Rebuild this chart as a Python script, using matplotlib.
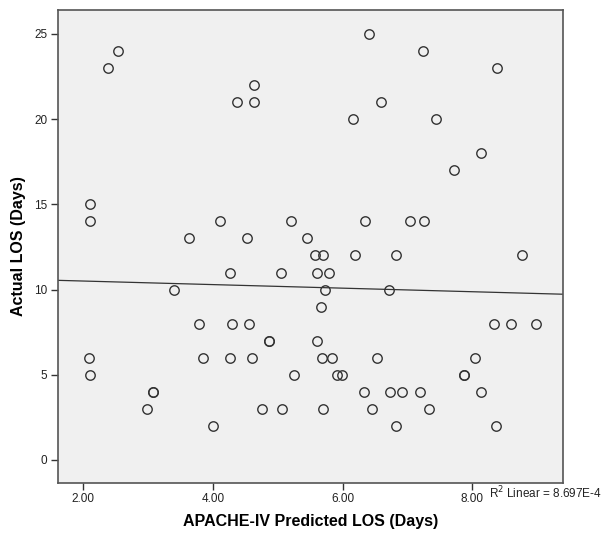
import numpy as np
import matplotlib
matplotlib.use('Agg')
import matplotlib.pyplot as plt

plt.rcParams['font.family'] = ['Liberation Sans', 'DejaVu Sans']

# Predicted LOS (x) and actual LOS (y)
pred_los = [2.11, 2.10, 2.38, 2.54, 4.37, 4.63, 4.63, 3.63, 4.11, 4.53, 5.21,
            6.40, 7.24, 8.38, 6.59, 6.16, 7.44, 8.13, 7.72, 6.35, 7.04, 7.25,
            5.45, 5.57, 5.70, 6.19, 6.82, 8.77, 5.61, 5.79,
            4.27, 5.05, 3.40, 3.78, 4.30, 4.56, 4.87, 4.87, 2.09, 3.85, 4.26,
            4.61, 2.10, 5.25, 3.07, 3.07, 2.99, 4.76, 5.06, 4.00,
            5.73, 6.71, 5.66, 8.33, 8.59, 8.99, 5.60, 5.68, 5.84, 6.53, 8.04,
            5.92, 5.99, 7.87, 7.87, 6.33, 6.73, 6.92, 7.20, 8.13,
            5.70, 6.45, 7.34, 6.82, 8.36]
actual_los = [15, 14, 23, 24, 21, 22, 21, 13, 14, 13, 14,
              25, 24, 23, 21, 20, 20, 18, 17, 14, 14, 14,
              13, 12, 12, 12, 12, 12, 11, 11,
              11, 11, 10, 8, 8, 8, 7, 7, 6, 6, 6,
              6, 5, 5, 4, 4, 3, 3, 3, 2,
              10, 10, 9, 8, 8, 8, 7, 6, 6, 6, 6,
              5, 5, 5, 5, 4, 4, 4, 4, 4,
              3, 3, 3, 2, 2]

x_ticks = [2, 4, 6, 8]
y_ticks = [0, 5, 10, 15, 20, 25]

x = np.array(pred_los)
y = np.array(actual_los)

fig = plt.figure(figsize=(6.05, 5.33), dpi=100)
ax = fig.add_axes([0.0959, 0.0938, 0.8347, 0.8874])
ax.set_facecolor('#f0f0f0')

ax.plot(x, y, 'o', markersize=6.8, markerfacecolor='none',
        markeredgecolor='#333333', markeredgewidth=1.0)

# Linear fit line across the whole x range
slope, intercept = np.polyfit(x, y, 1)
xlim = (1.61, 9.40)
xs = np.array(xlim)
ax.plot(xs, slope * xs + intercept, color='#333333', linewidth=0.9)

ax.set_xlim(xlim)
ax.set_ylim(-1.35, 26.4)
ax.set_xticks(x_ticks)
ax.set_xticklabels([f'{v:.2f}' for v in x_ticks])
ax.set_yticks(y_ticks)
ax.tick_params(axis='both', direction='out', length=5, width=1,
               color='#333333', labelsize=8.5, labelcolor='#222222', pad=2.5)

for s in ax.spines.values():
    s.set_color('#555555')
    s.set_linewidth(1.2)

ax.set_xlabel('APACHE-IV Predicted LOS (Days)', fontsize=11.5,
              fontweight='bold', labelpad=6)
ax.set_ylabel('Actual LOS (Days)', fontsize=11.5, fontweight='bold',
              labelpad=6)

fig.text(0.995, 0.075, 'R$^2$ Linear = 8.697E-4', ha='right', va='center',
         fontsize=8.5, color='#222222')

fig.savefig('out.png', dpi=100, facecolor='white')
